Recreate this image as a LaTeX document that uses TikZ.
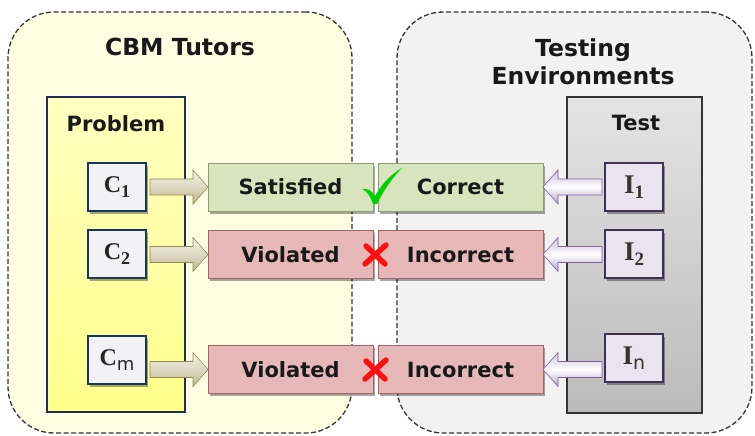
\documentclass[tikz,border=0pt]{standalone}
\usepackage{fontspec}
\setsansfont{DejaVu Sans}
\newfontfamily\serifI{Liberation Serif}
\usetikzlibrary{shadows,calc}
\definecolor{lpanel}{HTML}{FEFEE3}
\definecolor{rpanel}{HTML}{F2F2F2}
\definecolor{probtop}{HTML}{FFFFC0}
\definecolor{probbot}{HTML}{FFFF8C}
\definecolor{probline}{HTML}{1F2F4F}
\definecolor{testtop}{HTML}{E4E4E4}
\definecolor{testbot}{HTML}{BBBBBB}
\definecolor{testline}{HTML}{333333}
\definecolor{cfill}{HTML}{F2F2F4}
\definecolor{cline}{HTML}{17375E}
\definecolor{ifill}{HTML}{E8E4F0}
\definecolor{iline}{HTML}{3F3151}
\definecolor{gfill}{HTML}{D7E4BD}
\definecolor{gline}{HTML}{8E9C70}
\definecolor{rfill}{HTML}{E6B9B8}
\definecolor{rline}{HTML}{A86462}
\definecolor{atop}{HTML}{F2F0E4}
\definecolor{abot}{HTML}{BDB58E}
\definecolor{aline}{HTML}{948A54}
\definecolor{btop}{HTML}{F4F2F8}
\definecolor{bbot}{HTML}{B3A2C7}
\definecolor{bline}{HTML}{8064A2}
\definecolor{checkgreen}{HTML}{00D000}
\definecolor{crossred}{HTML}{FF1010}
\newcommand\Csub[1]{{\fontsize{24}{28}\selectfont C}\raisebox{-5pt}{\fontsize{18}{18}\selectfont #1}}
\newcommand\Isub[1]{{\fontsize{27}{30}\selectfont I}\raisebox{-5pt}{\fontsize{19}{19}\selectfont #1}}
\newcommand\rfat[3]{%
  \path[#3] let \p1=(#1), \p2=(#2) in
    (\x1,\y2+8pt) -- (\x2-15pt,\y2+8pt) -- (\x2-15pt,\y2+17pt) -- (\x2,\y2)
    -- (\x2-15pt,\y2-17pt) -- (\x2-15pt,\y2-8pt) -- (\x1,\y2-8pt) -- cycle;}
\newcommand\lfat[3]{%
  \path[#3] let \p1=(#1), \p2=(#2) in
    (\x1,\y2+8pt) -- (\x2+15pt,\y2+8pt) -- (\x2+15pt,\y2+17pt) -- (\x2,\y2)
    -- (\x2+15pt,\y2-17pt) -- (\x2+15pt,\y2-8pt) -- (\x1,\y2-8pt) -- cycle;}
\begin{document}
\begin{tikzpicture}[x=1pt,y=-1pt,
  every node/.style={inner sep=0pt, outer sep=0pt},
  panelbox/.style={draw=black!80, dash pattern=on 5pt off 2.5pt, line width=1.3pt, rounded corners=46pt},
  title/.style={font=\sffamily\bfseries\fontsize{23.5}{28}\selectfont, text=black!90, align=center},
  label/.style={font=\sffamily\bfseries\fontsize{21}{25}\selectfont, text=black!90},
  shade/.style={drop shadow={shadow xshift=2pt, shadow yshift=-2.5pt, opacity=0.35, fill=black}},
  cbox/.style={shade, draw=cline, line width=1.3pt, fill=cfill, minimum width=58pt, minimum height=48pt,
    font=\serifI\bfseries, text=black!85},
  ibox/.style={shade, draw=iline, line width=1.3pt, fill=ifill, minimum width=58pt, minimum height=48pt,
    font=\serifI\bfseries, text=black!80!olive},
  gbox/.style={shade, draw=gline, line width=0.9pt, fill=gfill, minimum width=165pt, minimum height=48pt, label},
  rbox/.style={shade, draw=rline, line width=0.9pt, fill=rfill, minimum width=165pt, minimum height=48pt, label},
  larrow/.style={draw=aline, line width=0.6pt, top color=atop, bottom color=abot, middle color=atop!60!abot},
  rarrow/.style={draw=bline, line width=0.6pt, top color=bbot!70, bottom color=bbot, middle color=white}
]
\useasboundingbox (0,0) rectangle (755,436);
% panels
\node[panelbox, fill=lpanel, minimum width=344pt, minimum height=421pt] (lp) at (180,222.5) {};
\node[panelbox, fill=rpanel, minimum width=355pt, minimum height=421pt] (rp) at (574.5,222.5) {};
\node[title] (cbm) at (180,47) {CBM Tutors};
\node[title] (env) at (583,62) {Testing\\Environments};
% columns
\node[draw=probline, line width=1.3pt, top color=probtop, bottom color=probbot,
  minimum width=138pt, minimum height=315pt] (prob) at (116,254.5) {};
\node[label] (probt) at (116,124) {Problem};
\node[draw=testline, line width=1.3pt, top color=testtop, bottom color=testbot,
  minimum width=135pt, minimum height=316pt] (test) at (634.5,255) {};
\node[label] (testt) at (636,123) {Test};
% C boxes
\node[cbox] (c1) at (117,187) {\Csub{1}};
\node[cbox] (c2) at (117,254) {\Csub{2}};
\node[cbox] (c3) at (117,360) {\Csub{\sffamily\mdseries m}};
% I boxes
\node[ibox] (i1) at (634,187) {\Isub{1}};
\node[ibox] (i2) at (634,254) {\Isub{2}};
\node[ibox] (i3) at (634,358) {\Isub{\sffamily\mdseries n}};
% result boxes
\node[gbox] (s1) at (290.5,187) {Satisfied};
\node[gbox] (r1) at (460.5,187) {Correct};
\node[rbox] (s2) at (290.5,254.5) {Violated};
\node[rbox] (r2) at (460.5,254.5) {Incorrect};
\node[rbox] (s3) at (290.5,369.5) {Violated};
\node[rbox] (r3) at (460.5,369.5) {Incorrect};
% block arrows
\rfat{$(c1.east)+(4,0)$}{s1.west}{larrow}
\rfat{$(c2.east)+(4,0)$}{s2.west}{larrow}
\rfat{$(c3.east)+(4,0)$}{s3.west}{larrow}
\lfat{$(i1.west)+(-3,0)$}{r1.east}{rarrow}
\lfat{$(i2.west)+(-3,0)$}{r2.east}{rarrow}
\lfat{$(i3.west)+(-3,0)$}{r3.east}{rarrow}
% check mark
\fill[checkgreen] (362,189) .. controls (367,191) and (371,197) .. (373,204)
  -- (377,204) .. controls (384,190) and (392,178) .. (402,168)
  .. controls (391,174) and (381,185) .. (375,196)
  .. controls (372,191) and (368,188) .. (362,189) -- cycle;
% crosses
\draw[crossred, line width=5.5pt, line cap=round] (366,246) -- (385,264) (386,245) -- (365,264);
\draw[crossred, line width=5.5pt, line cap=round] (366,361) -- (385,379) (386,360) -- (365,379);
\end{tikzpicture}
\end{document}
